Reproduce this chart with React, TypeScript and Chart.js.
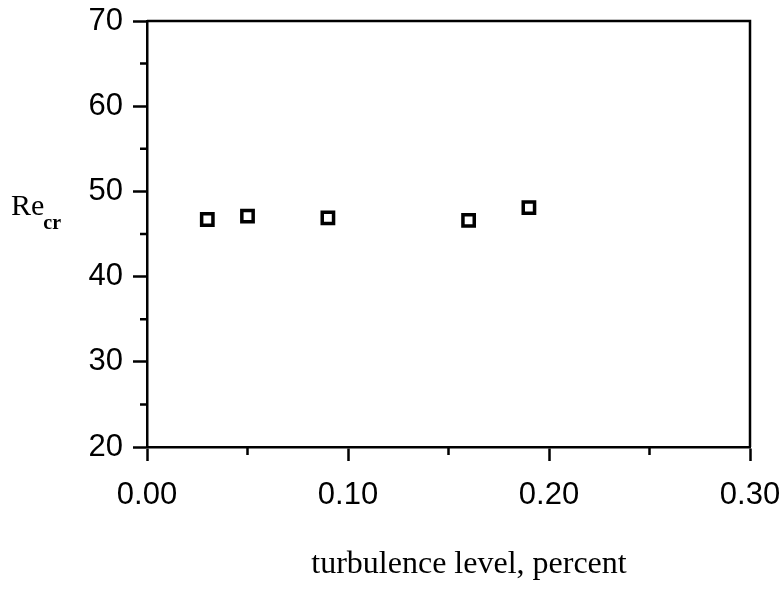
import React, { useEffect, useRef } from "react";
import { Chart, registerables } from "chart.js";

Chart.register(...registerables);

const turbulence = [0.03, 0.05, 0.09, 0.16, 0.19];
const reCritical = [46.7, 47.1, 46.9, 46.6, 48.1];
const xTicks = [0.0, 0.1, 0.2, 0.3];
const yTicks = [20, 30, 40, 50, 60, 70];
const xMinorTicks = [0.05, 0.15, 0.25];
const yMinorTicks = [25, 35, 45, 55, 65];
const xTitle = "turbulence level, percent";
const yTitleMain = "Re";
const yTitleSub = "cr";

const decorPlugin = {
  id: "decor",
  afterDraw(chart: any) {
    const { ctx, chartArea, scales } = chart;
    const x = scales.x;
    const y = scales.y;
    ctx.save();
    ctx.strokeStyle = "#000";
    ctx.lineWidth = 2.5;
    ctx.beginPath();
    ctx.moveTo(chartArea.left, chartArea.top);
    ctx.lineTo(chartArea.right, chartArea.top);
    ctx.lineTo(chartArea.right, chartArea.bottom);
    ctx.stroke();
    ctx.beginPath();
    yMinorTicks.forEach((v) => {
      const py = y.getPixelForValue(v);
      ctx.moveTo(chartArea.left - 7, py);
      ctx.lineTo(chartArea.left, py);
    });
    xMinorTicks.forEach((v) => {
      const px = x.getPixelForValue(v);
      ctx.moveTo(px, chartArea.bottom);
      ctx.lineTo(px, chartArea.bottom + 8);
    });
    ctx.stroke();
    ctx.fillStyle = "#000";
    ctx.textBaseline = "alphabetic";
    ctx.textAlign = "center";
    ctx.font = "32px 'Liberation Serif', serif";
    ctx.fillText(xTitle, 469, 573);
    ctx.textAlign = "left";
    ctx.font = "30px 'Liberation Serif', serif";
    ctx.fillText(yTitleMain, 11, 215);
    const w = ctx.measureText(yTitleMain).width;
    ctx.font = "bold 20px 'Liberation Serif', serif";
    ctx.fillText(yTitleSub, 11 + w - 1, 229);
    ctx.restore();
  },
};

export default function App() {
  const ref = useRef<HTMLCanvasElement | null>(null);
  useEffect(() => {
    document.body.style.margin = "0";
    const canvas = ref.current;
    if (!canvas) return;
    const tickFont = { family: "'Liberation Sans', Arial, sans-serif", size: 31 };
    const chart = new Chart(canvas, {
      type: "scatter",
      data: {
        datasets: [
          {
            data: turbulence.map((t, i) => ({ x: t, y: reCritical[i] })),
            pointStyle: "rect",
            pointRadius: 8,
            pointHoverRadius: 8,
            borderWidth: 3.5,
            borderColor: "#000",
            backgroundColor: "#fff",
          },
        ],
      },
      options: {
        responsive: false,
        animation: false,
        events: [],
        layout: { padding: { left: 0, right: 34, top: 21, bottom: 0 } },
        plugins: { legend: { display: false }, tooltip: { enabled: false } },
        scales: {
          x: {
            type: "linear",
            min: 0,
            max: 0.3,
            afterBuildTicks: (s: any) => {
              s.ticks = xTicks.map((v) => ({ value: v }));
            },
            afterFit: (s: any) => {
              s.height = 591 - 447;
              s.paddingLeft = 0;
              s.paddingRight = 0;
            },
            ticks: {
              color: "#000",
              font: tickFont,
              padding: 16,
              maxRotation: 0,
              callback: (v: any) => Number(v).toFixed(2),
            },
            grid: {
              drawOnChartArea: false,
              drawTicks: true,
              tickLength: 14,
              tickWidth: 2.5,
              tickColor: "#000",
            },
            border: { display: true, color: "#000", width: 2.5 },
          },
          y: {
            type: "linear",
            min: 20,
            max: 70,
            afterBuildTicks: (s: any) => {
              s.ticks = yTicks.map((v) => ({ value: v }));
            },
            afterFit: (s: any) => {
              s.width = 147;
              s.paddingTop = 0;
              s.paddingBottom = 0;
            },
            ticks: {
              color: "#000",
              font: tickFont,
              padding: 10,
              callback: (v: any) => String(v),
            },
            grid: {
              drawOnChartArea: false,
              drawTicks: true,
              tickLength: 14,
              tickWidth: 2.5,
              tickColor: "#000",
            },
            border: { display: true, color: "#000", width: 2.5 },
          },
        },
      },
      plugins: [decorPlugin],
    } as any);
    return () => chart.destroy();
  }, []);
  return (
    <div style={{ width: 784, height: 591, background: "#fff" }}>
      <canvas ref={ref} width={784} height={591} style={{ display: "block" }} />
    </div>
  );
}
